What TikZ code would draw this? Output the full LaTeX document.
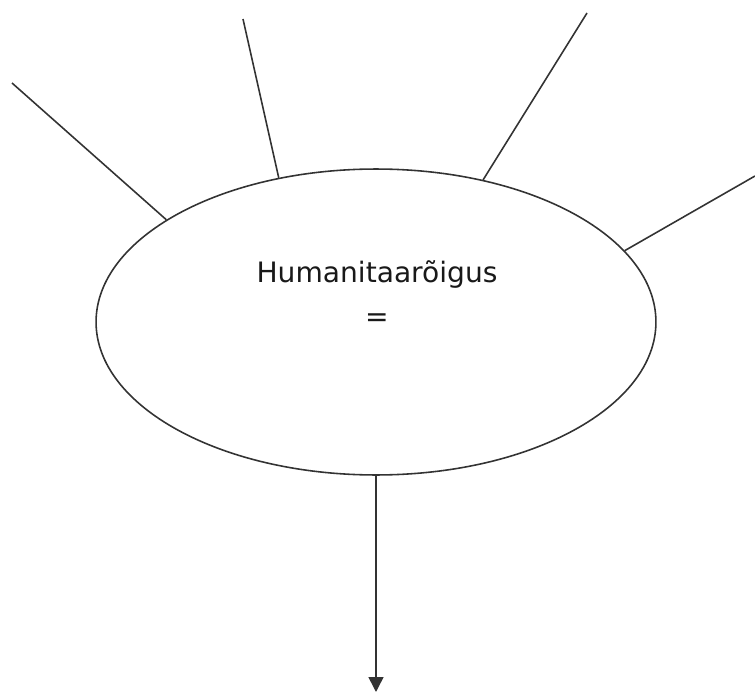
\documentclass[tikz,border=0pt]{standalone}
\usepackage{fontspec}
\setmainfont{DejaVu Sans}
\usetikzlibrary{arrows.meta,shapes.geometric}

\begin{document}
\begin{tikzpicture}[
    x=0.02cm, y=-0.02cm,
    oval/.style={ellipse, draw=black!80, line width=0.9pt,
                 minimum width=11.2cm, minimum height=6.12cm, inner sep=0pt},
    edge/.style={black!80, line width=0.9pt},
    lab/.style={font=\fontsize{16}{19}\selectfont, text=black!90,
                inner sep=0pt, anchor=base},
]
\useasboundingbox (0,0) rectangle (755,693);

% central term
\node[oval] (term) at (376,322) {};
\node[lab] (title) at (377,282) {Humanitaarõigus};
\node[lab] (eqsign) at (377,326) {=};

% spokes to the border of the oval
\foreach \x/\y/\a [count=\i] in {12/83/154.8, 243/19/124.6,
                                 587/13/53.4, 755/176/16.6} {
    \coordinate (ray\i) at (\x,\y);
    \draw[edge] (ray\i) -- (term.\a);
}

% downward arrow
\coordinate (foot) at (376,692);
\draw[edge, -{Triangle[length=8.5pt, width=8.5pt]}] (term.south) -- (foot);
\end{tikzpicture}
\end{document}
